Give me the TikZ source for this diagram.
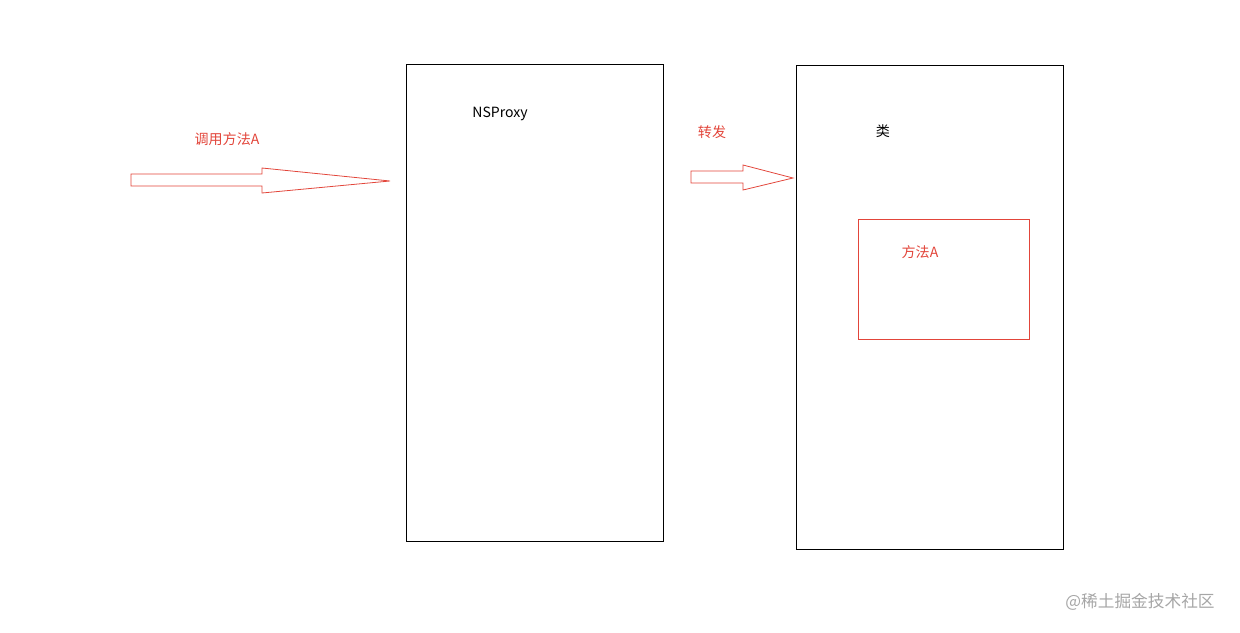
\documentclass[tikz,border=0pt]{standalone}
\usepackage{fontspec}
\setmainfont{Noto Sans CJK SC}
\definecolor{markred}{HTML}{E2453A}
\tikzset{
  box/.style={draw=black, line width=0.45pt},
  redbox/.style={draw=markred, line width=0.45pt},
  redtext/.style={text=markred, font=\fontsize{8}{10}\selectfont},
  blacktext/.style={text=black, font=\fontsize{8}{10}\selectfont},
  blockarrow/.style={draw=markred, line width=0.45pt}
}
\begin{document}
\begin{tikzpicture}[x=0.02cm,y=-0.02cm]
  \useasboundingbox (0,0) rectangle (1240,632);
  % proxy and class
  \draw[box] (406,64) rectangle (663,541);
  \draw[box] (796,65) rectangle (1063,549);
  \draw[redbox] (858,219) rectangle (1029,339);
  \node[blacktext] (proxy) at (500,114) {NSProxy};
  \node[blacktext] (cls) at (883,131) {类};
  \node[redtext] (method) at (920,252) {方法A};
  % arrows
  \draw[blockarrow] (131,174)--(262,174)--(262,168)--(390,181)--(262,193)--(262,186)--(131,186)--cycle;
  \node[redtext] (call) at (227,139) {调用方法A};
  \draw[blockarrow] (691,171)--(743,171)--(743,165)--(793,178)--(743,190)--(743,183)--(691,183)--cycle;
  \node[redtext] (fwd) at (712,132) {转发};
  \node[text=gray!70, font=\fontsize{9.5}{11}\selectfont] (mark) at (1140,602) {@稀土掘金技术社区};
\end{tikzpicture}
\end{document}
